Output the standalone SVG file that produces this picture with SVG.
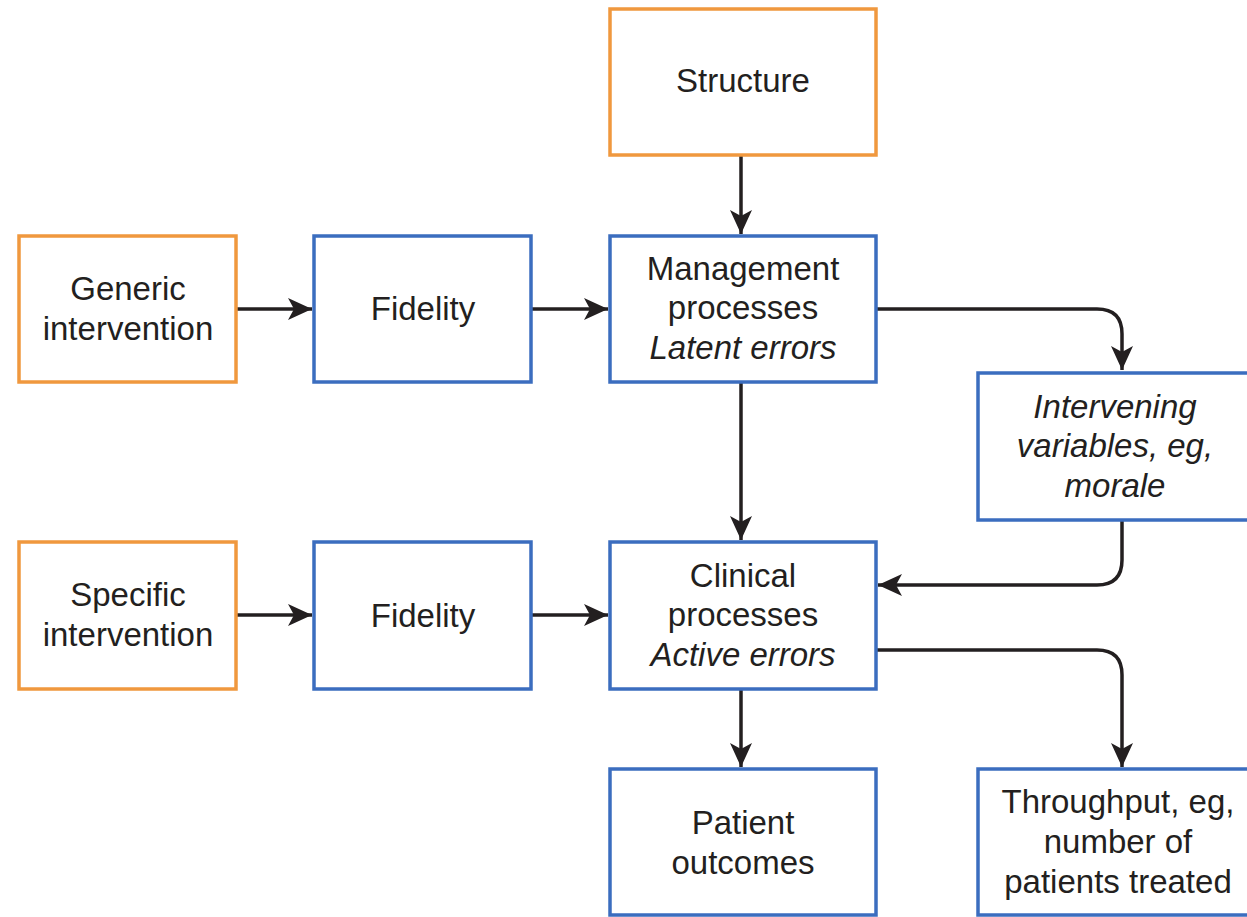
<svg xmlns="http://www.w3.org/2000/svg" width="1247" height="917" viewBox="0 0 1247 917">
<style>
.o{fill:#fff;stroke:#F0983E;stroke-width:3.5}
.b{fill:#fff;stroke:#3B6DBF;stroke-width:3.5}
text{font-family:"Liberation Sans",Arial,sans-serif;font-size:33px;fill:#231f20;text-anchor:middle}
.i{font-style:italic}
.c{fill:none;stroke:#231f20;stroke-width:3.5}
</style>
<defs>
<marker id="a" viewBox="0 0 24 24" refX="24" refY="12" markerWidth="24" markerHeight="24" markerUnits="userSpaceOnUse" orient="auto">
<path d="M0,1 L24,12 L0,23 L6,12 Z" fill="#231f20"/>
</marker>
</defs>
<rect width="1247" height="917" fill="#fff"/>
<g id="connectors">
<path class="c" d="M741,155 V234" marker-end="url(#a)"/>
<path class="c" d="M236,309 H312" marker-end="url(#a)"/>
<path class="c" d="M531,309 H608" marker-end="url(#a)"/>
<path class="c" d="M876,309 H1097 Q1122,309 1122,334 V370" marker-end="url(#a)"/>
<path class="c" d="M741,382 V540" marker-end="url(#a)"/>
<path class="c" d="M1122,520 V560 Q1122,585 1097,585 H878" marker-end="url(#a)"/>
<path class="c" d="M236,615 H312" marker-end="url(#a)"/>
<path class="c" d="M531,615 H608" marker-end="url(#a)"/>
<path class="c" d="M876,650 H1097 Q1122,650 1122,675 V767" marker-end="url(#a)"/>
<path class="c" d="M741,689 V767" marker-end="url(#a)"/>
</g>
<g id="structure"><rect class="o" x="610" y="9" width="266" height="146"/><text x="743" y="92">Structure</text></g>
<g id="generic"><rect class="o" x="19" y="236" width="217" height="146"/><text x="128" y="300">Generic</text><text x="128" y="340">intervention</text></g>
<g id="fidelity1"><rect class="b" x="314" y="236" width="217" height="146"/><text x="423" y="320">Fidelity</text></g>
<g id="management"><rect class="b" x="610" y="236" width="266" height="146"/><text x="743" y="280">Management</text><text x="743" y="319">processes</text><text class="i" x="743" y="359">Latent errors</text></g>
<g id="intervening"><rect class="b" x="978" y="373" width="272" height="147"/><text class="i" x="1115" y="418">Intervening</text><text class="i" x="1115" y="457">variables, eg,</text><text class="i" x="1115" y="497">morale</text></g>
<g id="specific"><rect class="o" x="19" y="542" width="217" height="147"/><text x="128" y="606">Specific</text><text x="128" y="646">intervention</text></g>
<g id="fidelity2"><rect class="b" x="314" y="542" width="217" height="147"/><text x="423" y="627">Fidelity</text></g>
<g id="clinical"><rect class="b" x="610" y="542" width="266" height="147"/><text x="743" y="587">Clinical</text><text x="743" y="626">processes</text><text class="i" x="743" y="666">Active errors</text></g>
<g id="patient"><rect class="b" x="610" y="769" width="266" height="146"/><text x="743" y="834">Patient</text><text x="743" y="874">outcomes</text></g>
<g id="throughput"><rect class="b" x="978" y="769" width="272" height="146"/><text x="1118" y="813">Throughput, eg,</text><text x="1118" y="853">number of</text><text x="1118" y="893">patients treated</text></g>
</svg>
